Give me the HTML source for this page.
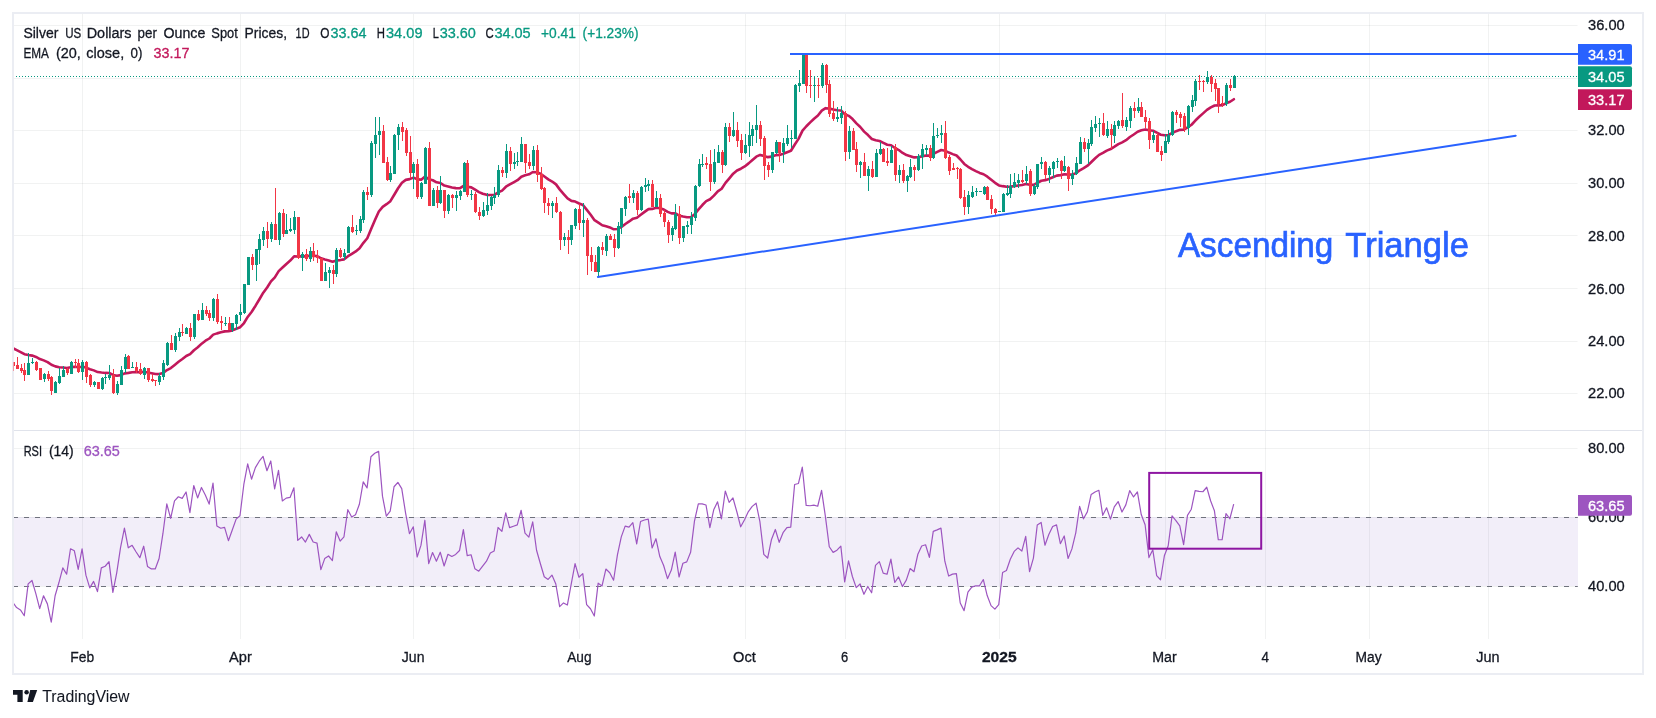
<!DOCTYPE html>
<html><head><meta charset="utf-8"><title>Silver chart</title><style>html,body{margin:0;padding:0;background:#fff;}body{width:1656px;height:718px;overflow:hidden;font-family:"Liberation Sans",sans-serif;}</style></head><body>
<svg width="1656" height="718" viewBox="0 0 1656 718" style="display:block;will-change:transform;opacity:0.999">
<rect x="0" y="0" width="1656" height="718" fill="#ffffff"/>
<g fill="#3c4646" fill-opacity="0.07"><rect x="14" y="25.00" width="1563.5" height="1" /><rect x="14" y="78.00" width="1563.5" height="1" /><rect x="14" y="130.00" width="1563.5" height="1" /><rect x="14" y="183.00" width="1563.5" height="1" /><rect x="14" y="235.00" width="1563.5" height="1" /><rect x="14" y="288.00" width="1563.5" height="1" /><rect x="14" y="341.00" width="1563.5" height="1" /><rect x="14" y="393.00" width="1563.5" height="1" /><rect x="14" y="448.00" width="1563.5" height="1" /><rect x="14" y="517.00" width="1563.5" height="1" /><rect x="14" y="586.00" width="1563.5" height="1" /><rect x="82.00" y="14" width="1" height="625" /><rect x="240.00" y="14" width="1" height="625" /><rect x="413.00" y="14" width="1" height="625" /><rect x="579.00" y="14" width="1" height="625" /><rect x="745.00" y="14" width="1" height="625" /><rect x="845.00" y="14" width="1" height="625" /><rect x="999.00" y="14" width="1" height="625" /><rect x="1165.00" y="14" width="1" height="625" /><rect x="1265.00" y="14" width="1" height="625" /><rect x="1369.00" y="14" width="1" height="625" /><rect x="1488.00" y="14" width="1" height="625" /></g>
<rect x="14" y="517" width="1564" height="69" fill="#7e57c2" fill-opacity="0.1"/>
<line x1="13" y1="517.5" x2="1577.8" y2="517.5" stroke="#6f727d" stroke-width="1" stroke-dasharray="5 6"/>
<line x1="13" y1="586.5" x2="1577.8" y2="586.5" stroke="#6f727d" stroke-width="1" stroke-dasharray="5 6"/>
<rect x="14" y="430" width="1628" height="1" fill="#e0e3eb"/>
<line x1="13" y1="76.5" x2="1578" y2="76.5" stroke="#089981" stroke-width="1" stroke-dasharray="1 2"/>
<defs><clipPath id="cp"><rect x="14" y="14" width="1564" height="416"/></clipPath><clipPath id="cp2"><rect x="14" y="431" width="1564" height="207"/></clipPath></defs>
<polyline clip-path="url(#cp)" points="12.93,348.20 16.78,350.17 20.63,352.09 24.48,354.20 28.34,354.99 32.19,355.60 36.04,356.91 39.89,359.02 43.74,360.38 47.59,362.07 51.45,364.81 55.30,366.36 59.15,367.24 63.00,367.45 66.85,367.95 70.70,367.30 74.56,366.80 78.41,367.23 82.26,366.69 86.11,367.59 89.96,369.20 93.81,370.38 97.67,372.07 101.52,372.56 105.37,372.92 109.22,373.04 113.07,374.92 116.92,375.74 120.77,375.13 124.63,373.37 128.48,372.88 132.33,372.29 136.18,372.10 140.03,372.26 143.88,371.80 147.74,372.49 151.59,373.26 155.44,373.96 159.29,374.12 163.14,373.02 166.99,370.08 170.85,368.09 174.70,364.96 178.55,361.80 182.40,359.00 186.25,355.98 190.10,354.10 193.96,350.22 197.81,347.27 201.66,343.67 205.51,340.74 209.36,338.50 213.21,334.64 217.07,333.37 220.92,332.36 224.77,331.37 228.62,331.21 232.47,330.36 236.32,328.83 240.17,327.21 244.03,323.04 247.88,316.69 251.73,311.74 255.58,305.69 259.43,299.27 263.28,292.71 267.14,287.50 270.99,281.37 274.84,277.35 278.69,271.16 282.54,267.55 286.39,263.93 290.25,260.58 294.10,256.38 297.95,256.46 301.80,256.17 305.65,256.35 309.50,255.79 313.36,255.87 317.21,256.02 321.06,258.33 324.91,259.57 328.76,260.50 332.61,261.68 336.46,260.49 340.32,260.09 344.17,259.37 348.02,256.21 351.87,253.83 355.72,251.46 359.57,248.31 363.43,242.85 367.28,238.26 371.13,229.09 374.98,220.08 378.83,211.53 382.68,206.82 386.54,204.20 390.39,201.17 394.24,194.79 398.09,188.25 401.94,182.81 405.79,179.88 409.65,179.14 413.50,177.62 417.35,179.40 421.20,179.66 425.05,176.59 428.90,179.31 432.76,180.25 436.61,182.33 440.46,183.03 444.31,185.60 448.16,186.42 452.01,187.44 455.86,188.13 459.72,188.30 463.57,185.88 467.42,186.72 471.27,187.36 475.12,189.70 478.97,192.11 482.83,193.79 486.68,194.83 490.53,194.97 494.38,194.91 498.23,192.44 502.08,190.55 505.94,186.72 509.79,184.48 513.64,182.30 517.49,180.18 521.34,176.70 525.19,175.30 529.05,174.36 532.90,171.99 536.75,172.24 540.60,173.77 544.45,176.54 548.30,179.33 552.15,181.52 556.01,184.39 559.86,189.62 563.71,194.09 567.56,198.39 571.41,200.88 575.26,201.58 579.12,203.53 582.97,205.02 586.82,209.83 590.67,214.73 594.52,220.16 598.37,222.64 602.23,225.21 606.08,226.19 609.93,227.43 613.78,229.31 617.63,228.97 621.48,226.95 625.34,224.02 629.19,221.44 633.04,218.67 636.89,217.76 640.74,214.75 644.59,211.86 648.45,209.17 652.30,208.89 656.15,207.81 660.00,208.30 663.85,209.54 667.70,211.91 671.55,213.41 675.41,213.37 679.26,215.64 683.11,216.58 686.96,217.32 690.81,217.22 694.66,214.19 698.52,209.38 702.37,205.02 706.22,201.16 710.07,199.26 713.92,195.63 717.77,191.40 721.63,188.79 725.48,182.84 729.33,178.33 733.18,173.64 737.03,170.44 740.88,168.73 744.74,166.41 748.59,163.39 752.44,160.06 756.29,156.69 760.14,154.91 763.99,155.92 767.85,157.16 771.70,156.64 775.55,155.18 779.40,154.90 783.25,153.73 787.10,152.20 790.95,150.77 794.81,144.46 798.66,138.59 802.51,130.58 806.36,126.24 810.21,122.34 814.06,118.74 817.92,115.56 821.77,110.66 825.62,108.17 829.47,108.62 833.32,109.59 837.17,110.26 841.03,110.48 844.88,114.33 848.73,115.86 852.58,119.07 856.43,123.41 860.28,127.02 864.14,131.59 867.99,135.08 871.84,139.01 875.69,140.26 879.54,141.03 883.39,142.93 887.24,144.76 891.10,145.19 894.95,147.96 898.80,150.03 902.65,152.93 906.50,155.08 910.35,156.15 914.21,157.40 918.06,157.21 921.91,156.37 925.76,155.52 929.61,155.67 933.46,153.73 937.32,151.85 941.17,150.01 945.02,150.68 948.87,152.56 952.72,154.13 956.57,155.52 960.43,159.49 964.28,163.92 968.13,166.82 971.98,169.12 975.83,171.12 979.68,172.93 983.54,174.24 987.39,176.66 991.24,179.73 995.09,182.82 998.94,185.41 1002.79,186.16 1006.64,186.73 1010.50,186.64 1014.35,186.13 1018.20,185.48 1022.05,185.05 1025.90,183.90 1029.75,184.76 1033.61,184.83 1037.46,182.78 1041.31,180.73 1045.16,180.15 1049.01,178.91 1052.86,177.23 1056.72,175.60 1060.57,175.11 1064.42,174.20 1068.27,174.64 1072.12,174.48 1075.97,173.33 1079.83,170.28 1083.68,168.18 1087.53,165.72 1091.38,161.96 1095.23,158.31 1099.08,154.85 1102.93,152.92 1106.79,150.58 1110.64,149.02 1114.49,146.69 1118.34,144.15 1122.19,142.32 1126.04,140.15 1129.90,137.04 1133.75,134.49 1137.60,131.79 1141.45,130.30 1145.30,129.41 1149.15,130.33 1153.01,130.73 1156.86,132.69 1160.71,134.76 1164.56,135.31 1168.41,135.20 1172.26,132.95 1176.12,131.16 1179.97,129.85 1183.82,129.70 1187.67,127.38 1191.52,124.75 1195.37,120.54 1199.23,116.77 1203.08,113.38 1206.93,109.89 1210.78,107.34 1214.63,105.50 1218.48,105.34 1222.33,105.20 1226.19,103.25 1230.04,101.74 1233.89,99.24" fill="none" stroke="#c2185b" stroke-width="2.6" stroke-linejoin="round" stroke-linecap="round"/>
<g clip-path="url(#cp)"><rect x="13" y="362" width="1" height="9" fill="#f23645"/><rect x="17" y="357" width="1" height="12" fill="#f23645"/><rect x="21" y="364" width="1" height="9" fill="#f23645"/><rect x="24" y="363" width="1" height="18" fill="#f23645"/><rect x="28" y="353" width="1" height="22" fill="#089981"/><rect x="32" y="358" width="1" height="6" fill="#089981"/><rect x="36" y="361" width="1" height="10" fill="#f23645"/><rect x="40" y="368" width="1" height="12" fill="#f23645"/><rect x="44" y="373" width="1" height="9" fill="#089981"/><rect x="48" y="371" width="1" height="10" fill="#f23645"/><rect x="51" y="376" width="1" height="19" fill="#f23645"/><rect x="55" y="381" width="1" height="12" fill="#089981"/><rect x="59" y="368" width="1" height="16" fill="#089981"/><rect x="63" y="366" width="1" height="11" fill="#089981"/><rect x="67" y="368" width="1" height="7" fill="#f23645"/><rect x="71" y="361" width="1" height="13" fill="#089981"/><rect x="75" y="359" width="1" height="9" fill="#f23645"/><rect x="78" y="359" width="1" height="14" fill="#f23645"/><rect x="82" y="360" width="1" height="20" fill="#089981"/><rect x="86" y="361" width="1" height="22" fill="#f23645"/><rect x="90" y="374" width="1" height="13" fill="#f23645"/><rect x="94" y="381" width="1" height="6" fill="#089981"/><rect x="98" y="382" width="1" height="7" fill="#f23645"/><rect x="102" y="377" width="1" height="13" fill="#089981"/><rect x="105" y="374" width="1" height="10" fill="#089981"/><rect x="109" y="365" width="1" height="15" fill="#089981"/><rect x="113" y="369" width="1" height="25" fill="#f23645"/><rect x="117" y="381" width="1" height="14" fill="#089981"/><rect x="121" y="366" width="1" height="19" fill="#089981"/><rect x="125" y="354" width="1" height="19" fill="#089981"/><rect x="128" y="355" width="1" height="14" fill="#f23645"/><rect x="132" y="362" width="1" height="6" fill="#089981"/><rect x="136" y="362" width="1" height="11" fill="#f23645"/><rect x="140" y="363" width="1" height="12" fill="#f23645"/><rect x="144" y="367" width="1" height="12" fill="#089981"/><rect x="148" y="368" width="1" height="14" fill="#f23645"/><rect x="152" y="374" width="1" height="8" fill="#f23645"/><rect x="155" y="380" width="1" height="6" fill="#f23645"/><rect x="159" y="373" width="1" height="12" fill="#089981"/><rect x="163" y="360" width="1" height="20" fill="#089981"/><rect x="167" y="342" width="1" height="24" fill="#089981"/><rect x="171" y="335" width="1" height="15" fill="#f23645"/><rect x="175" y="333" width="1" height="19" fill="#089981"/><rect x="179" y="328" width="1" height="13" fill="#089981"/><rect x="182" y="324" width="1" height="12" fill="#f23645"/><rect x="186" y="327" width="1" height="7" fill="#089981"/><rect x="190" y="323" width="1" height="18" fill="#f23645"/><rect x="194" y="314" width="1" height="25" fill="#089981"/><rect x="198" y="310" width="1" height="11" fill="#f23645"/><rect x="202" y="303" width="1" height="17" fill="#089981"/><rect x="206" y="306" width="1" height="10" fill="#f23645"/><rect x="209" y="310" width="1" height="11" fill="#f23645"/><rect x="213" y="298" width="1" height="23" fill="#089981"/><rect x="217" y="294" width="1" height="30" fill="#f23645"/><rect x="221" y="316" width="1" height="14" fill="#f23645"/><rect x="225" y="317" width="1" height="9" fill="#089981"/><rect x="229" y="317" width="1" height="13" fill="#f23645"/><rect x="232" y="323" width="1" height="9" fill="#089981"/><rect x="236" y="314" width="1" height="16" fill="#089981"/><rect x="240" y="304" width="1" height="17" fill="#089981"/><rect x="244" y="284" width="1" height="30" fill="#089981"/><rect x="248" y="257" width="1" height="28" fill="#089981"/><rect x="252" y="254" width="1" height="16" fill="#f23645"/><rect x="256" y="249" width="1" height="32" fill="#089981"/><rect x="259" y="234" width="1" height="30" fill="#089981"/><rect x="263" y="227" width="1" height="19" fill="#089981"/><rect x="267" y="222" width="1" height="26" fill="#f23645"/><rect x="271" y="222" width="1" height="20" fill="#089981"/><rect x="275" y="188" width="1" height="52" fill="#f23645"/><rect x="279" y="212" width="1" height="33" fill="#089981"/><rect x="283" y="209" width="1" height="28" fill="#f23645"/><rect x="286" y="214" width="1" height="20" fill="#089981"/><rect x="290" y="218" width="1" height="14" fill="#089981"/><rect x="294" y="211" width="1" height="23" fill="#089981"/><rect x="298" y="217" width="1" height="42" fill="#f23645"/><rect x="302" y="252" width="1" height="19" fill="#089981"/><rect x="306" y="249" width="1" height="12" fill="#f23645"/><rect x="310" y="247" width="1" height="15" fill="#089981"/><rect x="313" y="243" width="1" height="18" fill="#f23645"/><rect x="317" y="250" width="1" height="13" fill="#f23645"/><rect x="321" y="258" width="1" height="23" fill="#f23645"/><rect x="325" y="263" width="1" height="18" fill="#089981"/><rect x="329" y="267" width="1" height="21" fill="#089981"/><rect x="333" y="265" width="1" height="19" fill="#f23645"/><rect x="336" y="248" width="1" height="29" fill="#089981"/><rect x="340" y="248" width="1" height="10" fill="#f23645"/><rect x="344" y="249" width="1" height="11" fill="#089981"/><rect x="348" y="226" width="1" height="27" fill="#089981"/><rect x="352" y="215" width="1" height="18" fill="#f23645"/><rect x="356" y="225" width="1" height="10" fill="#089981"/><rect x="360" y="216" width="1" height="17" fill="#089981"/><rect x="363" y="190" width="1" height="33" fill="#089981"/><rect x="367" y="187" width="1" height="13" fill="#f23645"/><rect x="371" y="141" width="1" height="56" fill="#089981"/><rect x="375" y="117" width="1" height="41" fill="#089981"/><rect x="379" y="117" width="1" height="38" fill="#089981"/><rect x="383" y="125" width="1" height="38" fill="#f23645"/><rect x="387" y="157" width="1" height="24" fill="#f23645"/><rect x="390" y="166" width="1" height="16" fill="#089981"/><rect x="394" y="134" width="1" height="40" fill="#089981"/><rect x="398" y="124" width="1" height="26" fill="#089981"/><rect x="402" y="122" width="1" height="19" fill="#f23645"/><rect x="406" y="128" width="1" height="28" fill="#f23645"/><rect x="410" y="136" width="1" height="42" fill="#f23645"/><rect x="413" y="162" width="1" height="27" fill="#089981"/><rect x="417" y="159" width="1" height="40" fill="#f23645"/><rect x="421" y="182" width="1" height="17" fill="#089981"/><rect x="425" y="147" width="1" height="37" fill="#089981"/><rect x="429" y="142" width="1" height="64" fill="#f23645"/><rect x="433" y="188" width="1" height="18" fill="#089981"/><rect x="437" y="186" width="1" height="22" fill="#f23645"/><rect x="440" y="176" width="1" height="28" fill="#089981"/><rect x="444" y="190" width="1" height="28" fill="#f23645"/><rect x="448" y="194" width="1" height="20" fill="#089981"/><rect x="452" y="194" width="1" height="14" fill="#f23645"/><rect x="456" y="191" width="1" height="20" fill="#089981"/><rect x="460" y="190" width="1" height="10" fill="#089981"/><rect x="464" y="162" width="1" height="30" fill="#089981"/><rect x="467" y="160" width="1" height="37" fill="#f23645"/><rect x="471" y="190" width="1" height="10" fill="#089981"/><rect x="475" y="192" width="1" height="21" fill="#f23645"/><rect x="479" y="207" width="1" height="13" fill="#f23645"/><rect x="483" y="202" width="1" height="15" fill="#089981"/><rect x="487" y="193" width="1" height="22" fill="#089981"/><rect x="491" y="196" width="1" height="14" fill="#089981"/><rect x="494" y="187" width="1" height="17" fill="#089981"/><rect x="498" y="165" width="1" height="32" fill="#089981"/><rect x="502" y="167" width="1" height="10" fill="#f23645"/><rect x="506" y="144" width="1" height="34" fill="#089981"/><rect x="510" y="147" width="1" height="24" fill="#f23645"/><rect x="514" y="153" width="1" height="16" fill="#089981"/><rect x="517" y="152" width="1" height="14" fill="#089981"/><rect x="521" y="137" width="1" height="25" fill="#089981"/><rect x="525" y="144" width="1" height="29" fill="#f23645"/><rect x="529" y="154" width="1" height="15" fill="#f23645"/><rect x="533" y="146" width="1" height="24" fill="#089981"/><rect x="537" y="145" width="1" height="37" fill="#f23645"/><rect x="541" y="167" width="1" height="23" fill="#f23645"/><rect x="544" y="187" width="1" height="26" fill="#f23645"/><rect x="548" y="198" width="1" height="17" fill="#f23645"/><rect x="552" y="201" width="1" height="17" fill="#089981"/><rect x="556" y="197" width="1" height="16" fill="#f23645"/><rect x="560" y="211" width="1" height="39" fill="#f23645"/><rect x="564" y="233" width="1" height="13" fill="#089981"/><rect x="568" y="230" width="1" height="24" fill="#f23645"/><rect x="571" y="225" width="1" height="20" fill="#089981"/><rect x="575" y="208" width="1" height="21" fill="#089981"/><rect x="579" y="204" width="1" height="26" fill="#f23645"/><rect x="583" y="203" width="1" height="34" fill="#089981"/><rect x="587" y="218" width="1" height="57" fill="#f23645"/><rect x="591" y="247" width="1" height="24" fill="#f23645"/><rect x="595" y="255" width="1" height="17" fill="#f23645"/><rect x="598" y="246" width="1" height="31" fill="#089981"/><rect x="602" y="242" width="1" height="13" fill="#f23645"/><rect x="606" y="234" width="1" height="22" fill="#089981"/><rect x="610" y="234" width="1" height="6" fill="#f23645"/><rect x="614" y="234" width="1" height="23" fill="#f23645"/><rect x="618" y="222" width="1" height="27" fill="#089981"/><rect x="621" y="208" width="1" height="26" fill="#089981"/><rect x="625" y="196" width="1" height="20" fill="#089981"/><rect x="629" y="184" width="1" height="19" fill="#f23645"/><rect x="633" y="190" width="1" height="13" fill="#089981"/><rect x="637" y="191" width="1" height="24" fill="#f23645"/><rect x="641" y="186" width="1" height="25" fill="#089981"/><rect x="645" y="178" width="1" height="14" fill="#089981"/><rect x="648" y="180" width="1" height="11" fill="#089981"/><rect x="652" y="180" width="1" height="27" fill="#f23645"/><rect x="656" y="191" width="1" height="16" fill="#089981"/><rect x="660" y="194" width="1" height="23" fill="#f23645"/><rect x="664" y="210" width="1" height="17" fill="#f23645"/><rect x="668" y="220" width="1" height="23" fill="#f23645"/><rect x="672" y="226" width="1" height="15" fill="#089981"/><rect x="675" y="204" width="1" height="26" fill="#089981"/><rect x="679" y="206" width="1" height="38" fill="#f23645"/><rect x="683" y="226" width="1" height="16" fill="#089981"/><rect x="687" y="221" width="1" height="13" fill="#089981"/><rect x="691" y="212" width="1" height="22" fill="#089981"/><rect x="695" y="185" width="1" height="36" fill="#089981"/><rect x="699" y="159" width="1" height="28" fill="#089981"/><rect x="702" y="154" width="1" height="13" fill="#089981"/><rect x="706" y="157" width="1" height="12" fill="#f23645"/><rect x="710" y="150" width="1" height="41" fill="#f23645"/><rect x="714" y="149" width="1" height="35" fill="#089981"/><rect x="718" y="145" width="1" height="18" fill="#089981"/><rect x="722" y="150" width="1" height="23" fill="#f23645"/><rect x="725" y="123" width="1" height="43" fill="#089981"/><rect x="729" y="123" width="1" height="19" fill="#f23645"/><rect x="733" y="112" width="1" height="25" fill="#089981"/><rect x="737" y="122" width="1" height="25" fill="#f23645"/><rect x="741" y="134" width="1" height="26" fill="#f23645"/><rect x="745" y="134" width="1" height="20" fill="#089981"/><rect x="749" y="122" width="1" height="35" fill="#089981"/><rect x="752" y="125" width="1" height="21" fill="#089981"/><rect x="756" y="105" width="1" height="38" fill="#089981"/><rect x="760" y="121" width="1" height="25" fill="#f23645"/><rect x="764" y="136" width="1" height="44" fill="#f23645"/><rect x="768" y="162" width="1" height="15" fill="#f23645"/><rect x="772" y="152" width="1" height="21" fill="#089981"/><rect x="776" y="140" width="1" height="14" fill="#089981"/><rect x="779" y="142" width="1" height="20" fill="#f23645"/><rect x="783" y="138" width="1" height="25" fill="#089981"/><rect x="787" y="125" width="1" height="21" fill="#089981"/><rect x="791" y="130" width="1" height="18" fill="#089981"/><rect x="795" y="84" width="1" height="55" fill="#089981"/><rect x="799" y="70" width="1" height="22" fill="#089981"/><rect x="803" y="55" width="1" height="29" fill="#089981"/><rect x="806" y="55" width="1" height="38" fill="#f23645"/><rect x="810" y="70" width="1" height="28" fill="#f23645"/><rect x="814" y="76" width="1" height="26" fill="#089981"/><rect x="818" y="78" width="1" height="20" fill="#f23645"/><rect x="822" y="63" width="1" height="25" fill="#089981"/><rect x="826" y="64" width="1" height="29" fill="#f23645"/><rect x="829" y="80" width="1" height="37" fill="#f23645"/><rect x="833" y="101" width="1" height="20" fill="#f23645"/><rect x="837" y="107" width="1" height="15" fill="#089981"/><rect x="841" y="106" width="1" height="18" fill="#089981"/><rect x="845" y="111" width="1" height="50" fill="#f23645"/><rect x="849" y="126" width="1" height="33" fill="#089981"/><rect x="853" y="128" width="1" height="22" fill="#f23645"/><rect x="856" y="142" width="1" height="30" fill="#f23645"/><rect x="860" y="161" width="1" height="17" fill="#089981"/><rect x="864" y="153" width="1" height="23" fill="#f23645"/><rect x="868" y="166" width="1" height="25" fill="#089981"/><rect x="872" y="161" width="1" height="17" fill="#f23645"/><rect x="876" y="149" width="1" height="28" fill="#089981"/><rect x="880" y="142" width="1" height="13" fill="#089981"/><rect x="883" y="148" width="1" height="14" fill="#f23645"/><rect x="887" y="148" width="1" height="18" fill="#f23645"/><rect x="891" y="146" width="1" height="17" fill="#089981"/><rect x="895" y="144" width="1" height="37" fill="#f23645"/><rect x="899" y="165" width="1" height="18" fill="#089981"/><rect x="903" y="164" width="1" height="19" fill="#f23645"/><rect x="907" y="175" width="1" height="17" fill="#089981"/><rect x="910" y="159" width="1" height="19" fill="#089981"/><rect x="914" y="165" width="1" height="16" fill="#f23645"/><rect x="918" y="154" width="1" height="17" fill="#089981"/><rect x="922" y="144" width="1" height="25" fill="#089981"/><rect x="926" y="145" width="1" height="10" fill="#089981"/><rect x="930" y="145" width="1" height="16" fill="#f23645"/><rect x="933" y="123" width="1" height="36" fill="#089981"/><rect x="937" y="128" width="1" height="10" fill="#089981"/><rect x="941" y="125" width="1" height="18" fill="#089981"/><rect x="945" y="121" width="1" height="38" fill="#f23645"/><rect x="949" y="155" width="1" height="20" fill="#f23645"/><rect x="953" y="163" width="1" height="7" fill="#f23645"/><rect x="957" y="167" width="1" height="12" fill="#f23645"/><rect x="960" y="168" width="1" height="31" fill="#f23645"/><rect x="964" y="190" width="1" height="25" fill="#f23645"/><rect x="968" y="191" width="1" height="23" fill="#089981"/><rect x="972" y="186" width="1" height="12" fill="#089981"/><rect x="976" y="188" width="1" height="8" fill="#089981"/><rect x="980" y="191" width="1" height="1" fill="#089981"/><rect x="984" y="186" width="1" height="9" fill="#089981"/><rect x="987" y="186" width="1" height="14" fill="#f23645"/><rect x="991" y="195" width="1" height="19" fill="#f23645"/><rect x="995" y="208" width="1" height="7" fill="#f23645"/><rect x="999" y="211" width="1" height="1" fill="#089981"/><rect x="1003" y="193" width="1" height="19" fill="#089981"/><rect x="1007" y="185" width="1" height="11" fill="#089981"/><rect x="1010" y="174" width="1" height="24" fill="#089981"/><rect x="1014" y="173" width="1" height="15" fill="#089981"/><rect x="1018" y="174" width="1" height="14" fill="#089981"/><rect x="1022" y="170" width="1" height="13" fill="#f23645"/><rect x="1026" y="166" width="1" height="18" fill="#089981"/><rect x="1030" y="169" width="1" height="27" fill="#f23645"/><rect x="1034" y="184" width="1" height="11" fill="#089981"/><rect x="1037" y="164" width="1" height="25" fill="#089981"/><rect x="1041" y="157" width="1" height="12" fill="#089981"/><rect x="1045" y="161" width="1" height="18" fill="#f23645"/><rect x="1049" y="166" width="1" height="17" fill="#089981"/><rect x="1053" y="161" width="1" height="17" fill="#089981"/><rect x="1057" y="158" width="1" height="10" fill="#089981"/><rect x="1061" y="160" width="1" height="19" fill="#f23645"/><rect x="1064" y="156" width="1" height="16" fill="#089981"/><rect x="1068" y="166" width="1" height="25" fill="#f23645"/><rect x="1072" y="170" width="1" height="15" fill="#089981"/><rect x="1076" y="157" width="1" height="18" fill="#089981"/><rect x="1080" y="137" width="1" height="27" fill="#089981"/><rect x="1084" y="138" width="1" height="14" fill="#f23645"/><rect x="1088" y="139" width="1" height="25" fill="#089981"/><rect x="1091" y="120" width="1" height="26" fill="#089981"/><rect x="1095" y="116" width="1" height="16" fill="#089981"/><rect x="1099" y="118" width="1" height="19" fill="#089981"/><rect x="1103" y="113" width="1" height="23" fill="#f23645"/><rect x="1107" y="121" width="1" height="17" fill="#089981"/><rect x="1111" y="124" width="1" height="25" fill="#f23645"/><rect x="1114" y="121" width="1" height="22" fill="#089981"/><rect x="1118" y="120" width="1" height="9" fill="#089981"/><rect x="1122" y="93" width="1" height="35" fill="#f23645"/><rect x="1126" y="117" width="1" height="14" fill="#089981"/><rect x="1130" y="106" width="1" height="22" fill="#089981"/><rect x="1134" y="102" width="1" height="16" fill="#f23645"/><rect x="1138" y="98" width="1" height="15" fill="#089981"/><rect x="1141" y="102" width="1" height="15" fill="#f23645"/><rect x="1145" y="110" width="1" height="18" fill="#f23645"/><rect x="1149" y="118" width="1" height="31" fill="#f23645"/><rect x="1153" y="131" width="1" height="12" fill="#089981"/><rect x="1157" y="133" width="1" height="19" fill="#f23645"/><rect x="1161" y="146" width="1" height="15" fill="#f23645"/><rect x="1165" y="134" width="1" height="19" fill="#089981"/><rect x="1168" y="130" width="1" height="14" fill="#089981"/><rect x="1172" y="111" width="1" height="25" fill="#089981"/><rect x="1176" y="110" width="1" height="13" fill="#f23645"/><rect x="1180" y="112" width="1" height="15" fill="#f23645"/><rect x="1184" y="113" width="1" height="19" fill="#f23645"/><rect x="1188" y="105" width="1" height="30" fill="#089981"/><rect x="1192" y="95" width="1" height="17" fill="#089981"/><rect x="1195" y="79" width="1" height="27" fill="#089981"/><rect x="1199" y="75" width="1" height="15" fill="#f23645"/><rect x="1203" y="80" width="1" height="12" fill="#f23645"/><rect x="1207" y="71" width="1" height="13" fill="#089981"/><rect x="1211" y="75" width="1" height="17" fill="#f23645"/><rect x="1215" y="79" width="1" height="22" fill="#f23645"/><rect x="1218" y="88" width="1" height="25" fill="#f23645"/><rect x="1222" y="96" width="1" height="11" fill="#f23645"/><rect x="1226" y="83" width="1" height="23" fill="#089981"/><rect x="1230" y="79" width="1" height="12" fill="#f23645"/><rect x="1234" y="75" width="1" height="13" fill="#089981"/><rect x="12" y="362" width="3" height="4" fill="#f23645"/><rect x="16" y="365" width="3" height="4" fill="#f23645"/><rect x="20" y="368" width="3" height="3" fill="#f23645"/><rect x="23" y="370" width="3" height="5" fill="#f23645"/><rect x="27" y="363" width="3" height="12" fill="#089981"/><rect x="31" y="362" width="3" height="1" fill="#089981"/><rect x="35" y="362" width="3" height="8" fill="#f23645"/><rect x="39" y="368" width="3" height="12" fill="#f23645"/><rect x="43" y="374" width="3" height="5" fill="#089981"/><rect x="47" y="374" width="3" height="5" fill="#f23645"/><rect x="50" y="377" width="3" height="14" fill="#f23645"/><rect x="54" y="382" width="3" height="11" fill="#089981"/><rect x="58" y="376" width="3" height="7" fill="#089981"/><rect x="62" y="370" width="3" height="7" fill="#089981"/><rect x="66" y="369" width="3" height="4" fill="#f23645"/><rect x="70" y="362" width="3" height="12" fill="#089981"/><rect x="74" y="362" width="3" height="1" fill="#f23645"/><rect x="77" y="363" width="3" height="9" fill="#f23645"/><rect x="81" y="362" width="3" height="10" fill="#089981"/><rect x="85" y="362" width="3" height="15" fill="#f23645"/><rect x="89" y="375" width="3" height="10" fill="#f23645"/><rect x="93" y="382" width="3" height="3" fill="#089981"/><rect x="97" y="382" width="3" height="7" fill="#f23645"/><rect x="101" y="378" width="3" height="11" fill="#089981"/><rect x="104" y="377" width="3" height="1" fill="#089981"/><rect x="108" y="375" width="3" height="3" fill="#089981"/><rect x="112" y="375" width="3" height="18" fill="#f23645"/><rect x="116" y="384" width="3" height="9" fill="#089981"/><rect x="120" y="370" width="3" height="15" fill="#089981"/><rect x="124" y="357" width="3" height="12" fill="#089981"/><rect x="127" y="356" width="3" height="13" fill="#f23645"/><rect x="131" y="367" width="3" height="1" fill="#089981"/><rect x="135" y="367" width="3" height="4" fill="#f23645"/><rect x="139" y="369" width="3" height="5" fill="#f23645"/><rect x="143" y="368" width="3" height="7" fill="#089981"/><rect x="147" y="368" width="3" height="12" fill="#f23645"/><rect x="151" y="379" width="3" height="2" fill="#f23645"/><rect x="154" y="380" width="3" height="1" fill="#f23645"/><rect x="158" y="376" width="3" height="6" fill="#089981"/><rect x="162" y="363" width="3" height="14" fill="#089981"/><rect x="166" y="343" width="3" height="22" fill="#089981"/><rect x="170" y="343" width="3" height="7" fill="#f23645"/><rect x="174" y="336" width="3" height="14" fill="#089981"/><rect x="178" y="332" width="3" height="5" fill="#089981"/><rect x="181" y="332" width="3" height="1" fill="#f23645"/><rect x="185" y="328" width="3" height="6" fill="#089981"/><rect x="189" y="328" width="3" height="9" fill="#f23645"/><rect x="193" y="314" width="3" height="23" fill="#089981"/><rect x="197" y="314" width="3" height="6" fill="#f23645"/><rect x="201" y="310" width="3" height="10" fill="#089981"/><rect x="205" y="310" width="3" height="4" fill="#f23645"/><rect x="208" y="313" width="3" height="5" fill="#f23645"/><rect x="212" y="299" width="3" height="19" fill="#089981"/><rect x="216" y="299" width="3" height="23" fill="#f23645"/><rect x="220" y="321" width="3" height="2" fill="#f23645"/><rect x="224" y="323" width="3" height="1" fill="#089981"/><rect x="228" y="323" width="3" height="7" fill="#f23645"/><rect x="231" y="323" width="3" height="7" fill="#089981"/><rect x="235" y="315" width="3" height="9" fill="#089981"/><rect x="239" y="312" width="3" height="3" fill="#089981"/><rect x="243" y="284" width="3" height="29" fill="#089981"/><rect x="247" y="257" width="3" height="28" fill="#089981"/><rect x="251" y="257" width="3" height="8" fill="#f23645"/><rect x="255" y="249" width="3" height="16" fill="#089981"/><rect x="258" y="239" width="3" height="11" fill="#089981"/><rect x="262" y="231" width="3" height="9" fill="#089981"/><rect x="266" y="231" width="3" height="8" fill="#f23645"/><rect x="270" y="224" width="3" height="15" fill="#089981"/><rect x="274" y="224" width="3" height="16" fill="#f23645"/><rect x="278" y="213" width="3" height="27" fill="#089981"/><rect x="282" y="213" width="3" height="21" fill="#f23645"/><rect x="285" y="230" width="3" height="4" fill="#089981"/><rect x="289" y="229" width="3" height="2" fill="#089981"/><rect x="293" y="217" width="3" height="13" fill="#089981"/><rect x="297" y="217" width="3" height="41" fill="#f23645"/><rect x="301" y="254" width="3" height="4" fill="#089981"/><rect x="305" y="254" width="3" height="5" fill="#f23645"/><rect x="309" y="251" width="3" height="8" fill="#089981"/><rect x="312" y="251" width="3" height="6" fill="#f23645"/><rect x="316" y="256" width="3" height="2" fill="#f23645"/><rect x="320" y="258" width="3" height="23" fill="#f23645"/><rect x="324" y="272" width="3" height="9" fill="#089981"/><rect x="328" y="270" width="3" height="3" fill="#089981"/><rect x="332" y="270" width="3" height="4" fill="#f23645"/><rect x="335" y="250" width="3" height="24" fill="#089981"/><rect x="339" y="250" width="3" height="7" fill="#f23645"/><rect x="343" y="253" width="3" height="4" fill="#089981"/><rect x="347" y="227" width="3" height="26" fill="#089981"/><rect x="351" y="227" width="3" height="5" fill="#f23645"/><rect x="355" y="230" width="3" height="1" fill="#089981"/><rect x="359" y="219" width="3" height="12" fill="#089981"/><rect x="362" y="192" width="3" height="28" fill="#089981"/><rect x="366" y="192" width="3" height="3" fill="#f23645"/><rect x="370" y="143" width="3" height="52" fill="#089981"/><rect x="374" y="135" width="3" height="9" fill="#089981"/><rect x="378" y="131" width="3" height="4" fill="#089981"/><rect x="382" y="131" width="3" height="32" fill="#f23645"/><rect x="386" y="162" width="3" height="18" fill="#f23645"/><rect x="389" y="173" width="3" height="7" fill="#089981"/><rect x="393" y="135" width="3" height="39" fill="#089981"/><rect x="397" y="127" width="3" height="8" fill="#089981"/><rect x="401" y="127" width="3" height="5" fill="#f23645"/><rect x="405" y="130" width="3" height="23" fill="#f23645"/><rect x="409" y="152" width="3" height="21" fill="#f23645"/><rect x="412" y="164" width="3" height="9" fill="#089981"/><rect x="416" y="164" width="3" height="33" fill="#f23645"/><rect x="420" y="183" width="3" height="14" fill="#089981"/><rect x="424" y="148" width="3" height="36" fill="#089981"/><rect x="428" y="148" width="3" height="58" fill="#f23645"/><rect x="432" y="190" width="3" height="16" fill="#089981"/><rect x="436" y="190" width="3" height="13" fill="#f23645"/><rect x="439" y="190" width="3" height="13" fill="#089981"/><rect x="443" y="190" width="3" height="21" fill="#f23645"/><rect x="447" y="195" width="3" height="16" fill="#089981"/><rect x="451" y="195" width="3" height="3" fill="#f23645"/><rect x="455" y="195" width="3" height="3" fill="#089981"/><rect x="459" y="191" width="3" height="5" fill="#089981"/><rect x="463" y="163" width="3" height="29" fill="#089981"/><rect x="466" y="163" width="3" height="32" fill="#f23645"/><rect x="470" y="194" width="3" height="1" fill="#089981"/><rect x="474" y="194" width="3" height="18" fill="#f23645"/><rect x="478" y="212" width="3" height="4" fill="#f23645"/><rect x="482" y="210" width="3" height="6" fill="#089981"/><rect x="486" y="205" width="3" height="6" fill="#089981"/><rect x="490" y="197" width="3" height="9" fill="#089981"/><rect x="493" y="195" width="3" height="3" fill="#089981"/><rect x="497" y="170" width="3" height="25" fill="#089981"/><rect x="501" y="170" width="3" height="3" fill="#f23645"/><rect x="505" y="151" width="3" height="22" fill="#089981"/><rect x="509" y="151" width="3" height="13" fill="#f23645"/><rect x="513" y="162" width="3" height="2" fill="#089981"/><rect x="516" y="161" width="3" height="1" fill="#089981"/><rect x="520" y="144" width="3" height="18" fill="#089981"/><rect x="524" y="144" width="3" height="19" fill="#f23645"/><rect x="528" y="162" width="3" height="4" fill="#f23645"/><rect x="532" y="150" width="3" height="16" fill="#089981"/><rect x="536" y="150" width="3" height="25" fill="#f23645"/><rect x="540" y="174" width="3" height="15" fill="#f23645"/><rect x="543" y="188" width="3" height="15" fill="#f23645"/><rect x="547" y="203" width="3" height="3" fill="#f23645"/><rect x="551" y="203" width="3" height="3" fill="#089981"/><rect x="555" y="203" width="3" height="9" fill="#f23645"/><rect x="559" y="212" width="3" height="28" fill="#f23645"/><rect x="563" y="237" width="3" height="3" fill="#089981"/><rect x="567" y="237" width="3" height="3" fill="#f23645"/><rect x="570" y="225" width="3" height="15" fill="#089981"/><rect x="574" y="209" width="3" height="17" fill="#089981"/><rect x="578" y="209" width="3" height="14" fill="#f23645"/><rect x="582" y="220" width="3" height="3" fill="#089981"/><rect x="586" y="220" width="3" height="36" fill="#f23645"/><rect x="590" y="255" width="3" height="7" fill="#f23645"/><rect x="594" y="262" width="3" height="10" fill="#f23645"/><rect x="597" y="247" width="3" height="25" fill="#089981"/><rect x="601" y="247" width="3" height="3" fill="#f23645"/><rect x="605" y="236" width="3" height="15" fill="#089981"/><rect x="609" y="236" width="3" height="4" fill="#f23645"/><rect x="613" y="239" width="3" height="9" fill="#f23645"/><rect x="617" y="226" width="3" height="22" fill="#089981"/><rect x="620" y="208" width="3" height="19" fill="#089981"/><rect x="624" y="197" width="3" height="12" fill="#089981"/><rect x="628" y="196" width="3" height="2" fill="#f23645"/><rect x="632" y="193" width="3" height="5" fill="#089981"/><rect x="636" y="193" width="3" height="17" fill="#f23645"/><rect x="640" y="187" width="3" height="23" fill="#089981"/><rect x="644" y="185" width="3" height="2" fill="#089981"/><rect x="647" y="184" width="3" height="2" fill="#089981"/><rect x="651" y="184" width="3" height="23" fill="#f23645"/><rect x="655" y="198" width="3" height="9" fill="#089981"/><rect x="659" y="198" width="3" height="16" fill="#f23645"/><rect x="663" y="213" width="3" height="9" fill="#f23645"/><rect x="667" y="222" width="3" height="13" fill="#f23645"/><rect x="671" y="228" width="3" height="7" fill="#089981"/><rect x="674" y="214" width="3" height="15" fill="#089981"/><rect x="678" y="214" width="3" height="24" fill="#f23645"/><rect x="682" y="226" width="3" height="12" fill="#089981"/><rect x="686" y="225" width="3" height="2" fill="#089981"/><rect x="690" y="217" width="3" height="8" fill="#089981"/><rect x="694" y="186" width="3" height="32" fill="#089981"/><rect x="698" y="164" width="3" height="22" fill="#089981"/><rect x="701" y="164" width="3" height="1" fill="#089981"/><rect x="705" y="163" width="3" height="2" fill="#f23645"/><rect x="709" y="164" width="3" height="18" fill="#f23645"/><rect x="713" y="162" width="3" height="20" fill="#089981"/><rect x="717" y="152" width="3" height="11" fill="#089981"/><rect x="721" y="152" width="3" height="13" fill="#f23645"/><rect x="724" y="127" width="3" height="38" fill="#089981"/><rect x="728" y="127" width="3" height="9" fill="#f23645"/><rect x="732" y="130" width="3" height="6" fill="#089981"/><rect x="736" y="130" width="3" height="11" fill="#f23645"/><rect x="740" y="140" width="3" height="13" fill="#f23645"/><rect x="744" y="145" width="3" height="8" fill="#089981"/><rect x="748" y="135" width="3" height="11" fill="#089981"/><rect x="751" y="129" width="3" height="7" fill="#089981"/><rect x="755" y="125" width="3" height="5" fill="#089981"/><rect x="759" y="125" width="3" height="14" fill="#f23645"/><rect x="763" y="138" width="3" height="28" fill="#f23645"/><rect x="767" y="165" width="3" height="5" fill="#f23645"/><rect x="771" y="152" width="3" height="18" fill="#089981"/><rect x="775" y="142" width="3" height="11" fill="#089981"/><rect x="778" y="142" width="3" height="11" fill="#f23645"/><rect x="782" y="143" width="3" height="9" fill="#089981"/><rect x="786" y="138" width="3" height="6" fill="#089981"/><rect x="790" y="138" width="3" height="1" fill="#089981"/><rect x="794" y="85" width="3" height="54" fill="#089981"/><rect x="798" y="83" width="3" height="3" fill="#089981"/><rect x="802" y="55" width="3" height="29" fill="#089981"/><rect x="805" y="55" width="3" height="31" fill="#f23645"/><rect x="809" y="85" width="3" height="1" fill="#f23645"/><rect x="813" y="85" width="3" height="1" fill="#089981"/><rect x="817" y="85" width="3" height="1" fill="#f23645"/><rect x="821" y="65" width="3" height="21" fill="#089981"/><rect x="825" y="65" width="3" height="20" fill="#f23645"/><rect x="828" y="84" width="3" height="30" fill="#f23645"/><rect x="832" y="113" width="3" height="6" fill="#f23645"/><rect x="836" y="117" width="3" height="2" fill="#089981"/><rect x="840" y="113" width="3" height="5" fill="#089981"/><rect x="844" y="113" width="3" height="39" fill="#f23645"/><rect x="848" y="131" width="3" height="21" fill="#089981"/><rect x="852" y="131" width="3" height="19" fill="#f23645"/><rect x="855" y="149" width="3" height="16" fill="#f23645"/><rect x="859" y="162" width="3" height="3" fill="#089981"/><rect x="863" y="162" width="3" height="14" fill="#f23645"/><rect x="867" y="169" width="3" height="7" fill="#089981"/><rect x="871" y="169" width="3" height="8" fill="#f23645"/><rect x="875" y="153" width="3" height="24" fill="#089981"/><rect x="879" y="149" width="3" height="5" fill="#089981"/><rect x="882" y="149" width="3" height="13" fill="#f23645"/><rect x="886" y="161" width="3" height="2" fill="#f23645"/><rect x="890" y="150" width="3" height="13" fill="#089981"/><rect x="894" y="147" width="3" height="28" fill="#f23645"/><rect x="898" y="170" width="3" height="5" fill="#089981"/><rect x="902" y="170" width="3" height="11" fill="#f23645"/><rect x="906" y="176" width="3" height="5" fill="#089981"/><rect x="909" y="167" width="3" height="10" fill="#089981"/><rect x="913" y="167" width="3" height="3" fill="#f23645"/><rect x="917" y="156" width="3" height="14" fill="#089981"/><rect x="921" y="149" width="3" height="8" fill="#089981"/><rect x="925" y="148" width="3" height="2" fill="#089981"/><rect x="929" y="148" width="3" height="10" fill="#f23645"/><rect x="932" y="136" width="3" height="22" fill="#089981"/><rect x="936" y="135" width="3" height="1" fill="#089981"/><rect x="940" y="133" width="3" height="2" fill="#089981"/><rect x="944" y="133" width="3" height="25" fill="#f23645"/><rect x="948" y="157" width="3" height="14" fill="#f23645"/><rect x="952" y="168" width="3" height="2" fill="#f23645"/><rect x="956" y="168" width="3" height="1" fill="#f23645"/><rect x="959" y="169" width="3" height="29" fill="#f23645"/><rect x="963" y="197" width="3" height="10" fill="#f23645"/><rect x="967" y="195" width="3" height="12" fill="#089981"/><rect x="971" y="192" width="3" height="5" fill="#089981"/><rect x="975" y="191" width="3" height="1" fill="#089981"/><rect x="979" y="191" width="3" height="1" fill="#089981"/><rect x="983" y="187" width="3" height="7" fill="#089981"/><rect x="986" y="187" width="3" height="13" fill="#f23645"/><rect x="990" y="199" width="3" height="10" fill="#f23645"/><rect x="994" y="209" width="3" height="4" fill="#f23645"/><rect x="998" y="211" width="3" height="1" fill="#089981"/><rect x="1002" y="194" width="3" height="18" fill="#089981"/><rect x="1006" y="193" width="3" height="2" fill="#089981"/><rect x="1009" y="186" width="3" height="8" fill="#089981"/><rect x="1013" y="182" width="3" height="5" fill="#089981"/><rect x="1017" y="180" width="3" height="3" fill="#089981"/><rect x="1021" y="180" width="3" height="2" fill="#f23645"/><rect x="1025" y="174" width="3" height="7" fill="#089981"/><rect x="1029" y="171" width="3" height="23" fill="#f23645"/><rect x="1033" y="186" width="3" height="8" fill="#089981"/><rect x="1036" y="164" width="3" height="23" fill="#089981"/><rect x="1040" y="162" width="3" height="2" fill="#089981"/><rect x="1044" y="162" width="3" height="13" fill="#f23645"/><rect x="1048" y="168" width="3" height="7" fill="#089981"/><rect x="1052" y="162" width="3" height="7" fill="#089981"/><rect x="1056" y="161" width="3" height="1" fill="#089981"/><rect x="1060" y="161" width="3" height="10" fill="#f23645"/><rect x="1063" y="166" width="3" height="5" fill="#089981"/><rect x="1067" y="167" width="3" height="12" fill="#f23645"/><rect x="1071" y="174" width="3" height="5" fill="#089981"/><rect x="1075" y="163" width="3" height="11" fill="#089981"/><rect x="1079" y="142" width="3" height="22" fill="#089981"/><rect x="1083" y="142" width="3" height="7" fill="#f23645"/><rect x="1087" y="143" width="3" height="6" fill="#089981"/><rect x="1090" y="127" width="3" height="17" fill="#089981"/><rect x="1094" y="124" width="3" height="4" fill="#089981"/><rect x="1098" y="123" width="3" height="1" fill="#089981"/><rect x="1102" y="123" width="3" height="12" fill="#f23645"/><rect x="1106" y="129" width="3" height="7" fill="#089981"/><rect x="1110" y="129" width="3" height="6" fill="#f23645"/><rect x="1113" y="125" width="3" height="11" fill="#089981"/><rect x="1117" y="121" width="3" height="5" fill="#089981"/><rect x="1121" y="120" width="3" height="6" fill="#f23645"/><rect x="1125" y="120" width="3" height="7" fill="#089981"/><rect x="1129" y="108" width="3" height="13" fill="#089981"/><rect x="1133" y="108" width="3" height="3" fill="#f23645"/><rect x="1137" y="107" width="3" height="4" fill="#089981"/><rect x="1140" y="107" width="3" height="10" fill="#f23645"/><rect x="1144" y="117" width="3" height="5" fill="#f23645"/><rect x="1148" y="121" width="3" height="19" fill="#f23645"/><rect x="1152" y="135" width="3" height="5" fill="#089981"/><rect x="1156" y="135" width="3" height="17" fill="#f23645"/><rect x="1160" y="151" width="3" height="4" fill="#f23645"/><rect x="1164" y="141" width="3" height="12" fill="#089981"/><rect x="1167" y="135" width="3" height="7" fill="#089981"/><rect x="1171" y="112" width="3" height="23" fill="#089981"/><rect x="1175" y="112" width="3" height="3" fill="#f23645"/><rect x="1179" y="114" width="3" height="4" fill="#f23645"/><rect x="1183" y="116" width="3" height="13" fill="#f23645"/><rect x="1187" y="106" width="3" height="22" fill="#089981"/><rect x="1191" y="100" width="3" height="7" fill="#089981"/><rect x="1194" y="81" width="3" height="20" fill="#089981"/><rect x="1198" y="81" width="3" height="1" fill="#f23645"/><rect x="1202" y="81" width="3" height="1" fill="#f23645"/><rect x="1206" y="77" width="3" height="5" fill="#089981"/><rect x="1210" y="77" width="3" height="7" fill="#f23645"/><rect x="1214" y="83" width="3" height="6" fill="#f23645"/><rect x="1217" y="88" width="3" height="16" fill="#f23645"/><rect x="1221" y="103" width="3" height="1" fill="#f23645"/><rect x="1225" y="85" width="3" height="19" fill="#089981"/><rect x="1229" y="85" width="3" height="3" fill="#f23645"/><rect x="1233" y="76" width="3" height="12" fill="#089981"/></g>
<line x1="790" y1="54" x2="1578" y2="54" stroke="#2962ff" stroke-width="2"/>
<line x1="597.9" y1="276.9" x2="1515.7" y2="135.7" stroke="#2962ff" stroke-width="2" stroke-linecap="round"/>
<polyline clip-path="url(#cp2)" points="12.73,602.40 16.58,607.60 20.43,609.90 24.28,615.75 28.14,583.90 31.99,580.50 35.84,593.70 39.69,608.70 43.54,595.78 47.39,603.88 51.25,622.18 55.10,595.72 58.95,582.53 62.80,567.82 66.65,574.21 70.50,548.78 74.36,550.83 78.21,569.38 82.06,548.83 85.91,575.19 89.76,587.86 93.61,581.43 97.47,591.64 101.32,567.86 105.17,566.25 109.02,561.65 112.87,592.40 116.72,572.86 120.57,547.31 124.43,528.11 128.28,547.80 132.13,545.35 135.98,551.76 139.83,557.70 143.68,546.21 147.54,566.56 151.39,568.96 155.24,568.96 159.09,558.47 162.94,533.46 166.79,503.96 170.65,518.33 174.50,500.79 178.35,496.77 182.20,498.33 186.05,491.94 189.90,512.57 193.76,485.54 197.61,497.92 201.46,487.47 205.31,495.01 209.16,504.09 213.01,483.07 216.87,525.99 220.72,528.26 224.57,527.34 228.42,540.68 232.27,529.97 236.12,519.14 239.97,515.79 243.83,484.46 247.68,463.86 251.53,479.19 255.38,467.60 259.23,461.23 263.08,456.47 266.94,470.75 270.79,460.98 274.64,488.80 278.49,470.40 282.34,500.93 286.19,498.13 290.05,497.46 293.90,487.83 297.75,540.41 301.60,536.94 305.45,542.10 309.30,534.37 313.16,542.01 317.01,543.07 320.86,569.66 324.71,558.62 328.56,555.99 332.41,560.53 336.26,531.85 340.12,541.09 343.97,536.79 347.82,509.70 351.67,516.91 355.52,514.75 359.37,504.25 363.23,481.95 367.08,487.89 370.93,456.68 374.78,453.30 378.63,451.41 382.48,496.14 386.34,516.23 390.19,511.14 394.04,486.73 397.89,482.36 401.74,488.58 405.59,513.08 409.45,533.71 413.30,526.76 417.15,556.99 421.00,545.18 424.85,520.22 428.70,563.64 432.56,552.56 436.41,561.19 440.26,552.21 444.11,566.01 447.96,554.26 451.81,556.43 455.66,554.43 459.52,550.54 463.37,529.59 467.22,555.69 471.07,554.75 474.92,568.82 478.77,571.19 482.63,566.07 486.48,561.15 490.33,552.93 494.18,550.91 498.03,527.48 501.88,531.41 505.74,512.89 509.59,527.66 513.44,526.20 517.29,524.82 521.14,510.24 524.99,533.13 528.85,537.07 532.70,521.85 536.55,550.29 540.40,563.71 544.25,576.79 548.10,579.44 551.95,575.09 555.81,584.00 559.66,606.61 563.51,602.93 567.36,605.08 571.21,584.17 575.06,563.55 578.92,577.26 582.77,573.64 586.62,604.56 590.47,608.75 594.32,616.01 598.17,583.16 602.03,585.95 605.88,569.05 609.73,572.72 613.58,580.23 617.43,554.91 621.28,536.85 625.14,526.12 628.99,527.14 632.84,522.62 636.69,543.90 640.54,521.49 644.39,519.98 648.25,519.19 652.10,548.00 655.95,538.74 659.80,556.54 663.65,565.52 667.50,578.70 671.35,570.03 675.21,552.13 679.06,576.98 682.91,563.23 686.76,561.86 690.61,552.31 694.46,521.13 698.32,503.86 702.17,503.86 706.02,505.03 709.87,527.61 713.72,509.84 717.57,501.85 721.43,518.88 725.28,491.00 729.13,502.42 732.98,497.97 736.83,511.78 740.68,526.83 744.54,519.71 748.39,511.53 752.24,506.41 756.09,503.19 759.94,521.99 763.79,554.35 767.65,558.04 771.50,539.48 775.35,529.46 779.20,542.34 783.05,532.68 786.90,527.67 790.75,527.15 794.61,484.51 798.46,483.46 802.31,467.19 806.16,505.38 810.01,505.77 813.86,505.16 817.72,506.26 821.57,490.44 825.42,516.63 829.27,546.78 833.12,552.36 836.97,550.21 840.83,546.09 844.68,581.83 848.53,560.84 852.38,576.50 856.23,587.64 860.08,584.00 863.94,594.26 867.79,586.45 871.64,592.77 875.49,565.43 879.34,561.60 883.19,573.16 887.04,574.23 890.90,559.20 894.75,582.51 898.60,576.95 902.45,586.55 906.30,580.14 910.15,568.54 914.01,571.69 917.86,554.25 921.71,545.97 925.56,544.76 929.41,557.37 933.26,531.35 937.12,529.89 940.97,528.15 944.82,561.21 948.67,576.04 952.52,574.15 956.37,573.64 960.23,603.04 964.08,610.62 967.93,592.23 971.78,587.13 975.63,585.79 979.48,585.79 983.34,579.53 987.19,595.53 991.04,605.61 994.89,609.16 998.74,604.59 1002.59,572.52 1006.44,570.46 1010.30,559.20 1014.15,551.40 1018.00,547.90 1021.85,551.07 1025.70,536.41 1029.55,571.70 1033.41,558.12 1037.26,525.05 1041.11,522.45 1044.96,545.24 1048.81,534.51 1052.66,526.50 1056.52,524.87 1060.37,543.72 1064.22,535.93 1068.07,558.50 1071.92,548.89 1075.77,532.83 1079.63,506.31 1083.48,518.81 1087.33,511.84 1091.18,494.48 1095.03,492.00 1098.88,490.28 1102.73,515.30 1106.59,507.81 1110.44,519.12 1114.29,506.94 1118.14,501.56 1121.99,512.03 1125.84,504.86 1129.70,490.58 1133.55,496.98 1137.40,491.92 1141.25,514.58 1145.10,524.74 1148.95,557.58 1152.81,549.85 1156.66,575.55 1160.51,579.76 1164.36,555.79 1168.21,545.71 1172.06,515.76 1175.92,520.53 1179.77,525.96 1183.62,544.64 1187.47,515.40 1191.32,509.23 1195.17,490.62 1199.03,491.46 1202.88,491.76 1206.73,487.25 1210.58,500.78 1214.43,510.82 1218.28,539.77 1222.13,539.77 1225.99,513.62 1229.84,518.76 1233.69,504.19" fill="none" stroke="#9d55c0" stroke-width="1.2" stroke-linejoin="round"/>
<rect x="1149.2" y="472.9" width="112" height="75.8" fill="none" stroke="#8e16a2" stroke-width="2"/>
<text x="1177.9" y="256.8" font-family="Liberation Sans, sans-serif" font-size="35.5" fill="#2962ff" stroke="#2962ff" stroke-width="0.7" textLength="155.5" lengthAdjust="spacingAndGlyphs">Ascending</text>
<text x="1345.3" y="256.8" font-family="Liberation Sans, sans-serif" font-size="35.5" fill="#2962ff" stroke="#2962ff" stroke-width="0.7" textLength="123.6" lengthAdjust="spacingAndGlyphs">Triangle</text>
<text x="23.4" y="37.9" font-family="Liberation Sans, sans-serif" font-size="15.3" fill="#131722" stroke="#131722" stroke-width="0.3" textLength="35.0" lengthAdjust="spacingAndGlyphs">Silver</text>
<text x="65.2" y="37.9" font-family="Liberation Sans, sans-serif" font-size="15.3" fill="#131722" stroke="#131722" stroke-width="0.3" textLength="16.0" lengthAdjust="spacingAndGlyphs">US</text>
<text x="86.7" y="37.9" font-family="Liberation Sans, sans-serif" font-size="15.3" fill="#131722" stroke="#131722" stroke-width="0.3" textLength="44.9" lengthAdjust="spacingAndGlyphs">Dollars</text>
<text x="137.6" y="37.9" font-family="Liberation Sans, sans-serif" font-size="15.3" fill="#131722" stroke="#131722" stroke-width="0.3" textLength="19.3" lengthAdjust="spacingAndGlyphs">per</text>
<text x="163.5" y="37.9" font-family="Liberation Sans, sans-serif" font-size="15.3" fill="#131722" stroke="#131722" stroke-width="0.3" textLength="41.8" lengthAdjust="spacingAndGlyphs">Ounce</text>
<text x="211.3" y="37.9" font-family="Liberation Sans, sans-serif" font-size="15.3" fill="#131722" stroke="#131722" stroke-width="0.3" textLength="26.5" lengthAdjust="spacingAndGlyphs">Spot</text>
<text x="244.6" y="37.9" font-family="Liberation Sans, sans-serif" font-size="15.3" fill="#131722" stroke="#131722" stroke-width="0.3" textLength="42.4" lengthAdjust="spacingAndGlyphs">Prices,</text>
<text x="295.6" y="37.9" font-family="Liberation Sans, sans-serif" font-size="15.3" fill="#131722" stroke="#131722" stroke-width="0.3" textLength="13.9" lengthAdjust="spacingAndGlyphs">1D</text>
<text x="320.3" y="37.9" font-family="Liberation Sans, sans-serif" font-size="15.3" fill="#131722" stroke="#131722" stroke-width="0.3" textLength="9.2" lengthAdjust="spacingAndGlyphs">O</text>
<text x="376.7" y="37.9" font-family="Liberation Sans, sans-serif" font-size="15.3" fill="#131722" stroke="#131722" stroke-width="0.3" textLength="8.2" lengthAdjust="spacingAndGlyphs">H</text>
<text x="432.8" y="37.9" font-family="Liberation Sans, sans-serif" font-size="15.3" fill="#131722" stroke="#131722" stroke-width="0.3" textLength="6.1" lengthAdjust="spacingAndGlyphs">L</text>
<text x="485.5" y="37.9" font-family="Liberation Sans, sans-serif" font-size="15.3" fill="#131722" stroke="#131722" stroke-width="0.3" textLength="8.2" lengthAdjust="spacingAndGlyphs">C</text>
<text x="330.5" y="37.9" font-family="Liberation Sans, sans-serif" font-size="15.3" fill="#089981" stroke="#089981" stroke-width="0.3" textLength="36.0" lengthAdjust="spacingAndGlyphs">33.64</text>
<text x="386" y="37.9" font-family="Liberation Sans, sans-serif" font-size="15.3" fill="#089981" stroke="#089981" stroke-width="0.3" textLength="36.5" lengthAdjust="spacingAndGlyphs">34.09</text>
<text x="439.7" y="37.9" font-family="Liberation Sans, sans-serif" font-size="15.3" fill="#089981" stroke="#089981" stroke-width="0.3" textLength="36.2" lengthAdjust="spacingAndGlyphs">33.60</text>
<text x="494.4" y="37.9" font-family="Liberation Sans, sans-serif" font-size="15.3" fill="#089981" stroke="#089981" stroke-width="0.3" textLength="36.3" lengthAdjust="spacingAndGlyphs">34.05</text>
<text x="541" y="37.9" font-family="Liberation Sans, sans-serif" font-size="15.3" fill="#089981" stroke="#089981" stroke-width="0.3" textLength="34.9" lengthAdjust="spacingAndGlyphs">+0.41</text>
<text x="582.6" y="37.9" font-family="Liberation Sans, sans-serif" font-size="15.3" fill="#089981" stroke="#089981" stroke-width="0.3" textLength="55.9" lengthAdjust="spacingAndGlyphs">(+1.23%)</text>
<text x="23.4" y="58.3" font-family="Liberation Sans, sans-serif" font-size="15.3" fill="#131722" stroke="#131722" stroke-width="0.3" textLength="25.5" lengthAdjust="spacingAndGlyphs">EMA</text>
<text x="55.9" y="58.3" font-family="Liberation Sans, sans-serif" font-size="15.3" fill="#131722" stroke="#131722" stroke-width="0.3" textLength="24.9" lengthAdjust="spacingAndGlyphs">(20,</text>
<text x="86.3" y="58.3" font-family="Liberation Sans, sans-serif" font-size="15.3" fill="#131722" stroke="#131722" stroke-width="0.3" textLength="37.9" lengthAdjust="spacingAndGlyphs">close,</text>
<text x="130.6" y="58.3" font-family="Liberation Sans, sans-serif" font-size="15.3" fill="#131722" stroke="#131722" stroke-width="0.3" textLength="11.9" lengthAdjust="spacingAndGlyphs">0)</text>
<text x="153.5" y="58.3" font-family="Liberation Sans, sans-serif" font-size="15.3" fill="#c2185b" stroke="#c2185b" stroke-width="0.3" textLength="35.9" lengthAdjust="spacingAndGlyphs">33.17</text>
<text x="23.7" y="455.8" font-family="Liberation Sans, sans-serif" font-size="15.3" fill="#131722" stroke="#131722" stroke-width="0.3" textLength="18.3" lengthAdjust="spacingAndGlyphs">RSI</text>
<text x="48.9" y="455.8" font-family="Liberation Sans, sans-serif" font-size="15.3" fill="#131722" stroke="#131722" stroke-width="0.3" textLength="24.8" lengthAdjust="spacingAndGlyphs">(14)</text>
<text x="83.7" y="455.8" font-family="Liberation Sans, sans-serif" font-size="15.3" fill="#9d55c0" stroke="#9d55c0" stroke-width="0.3" textLength="36.2" lengthAdjust="spacingAndGlyphs">63.65</text>
<text x="1588" y="29.9" font-family="Liberation Sans, sans-serif" font-size="15.3" fill="#131722" stroke="#131722" stroke-width="0.3" textLength="36.7" lengthAdjust="spacingAndGlyphs">36.00</text>
<text x="1588" y="82.9" font-family="Liberation Sans, sans-serif" font-size="15.3" fill="#131722" stroke="#131722" stroke-width="0.3" textLength="36.7" lengthAdjust="spacingAndGlyphs">34.00</text>
<text x="1588" y="135.3" font-family="Liberation Sans, sans-serif" font-size="15.3" fill="#131722" stroke="#131722" stroke-width="0.3" textLength="36.7" lengthAdjust="spacingAndGlyphs">32.00</text>
<text x="1588" y="187.7" font-family="Liberation Sans, sans-serif" font-size="15.3" fill="#131722" stroke="#131722" stroke-width="0.3" textLength="36.7" lengthAdjust="spacingAndGlyphs">30.00</text>
<text x="1588" y="240.6" font-family="Liberation Sans, sans-serif" font-size="15.3" fill="#131722" stroke="#131722" stroke-width="0.3" textLength="36.7" lengthAdjust="spacingAndGlyphs">28.00</text>
<text x="1588" y="293.8" font-family="Liberation Sans, sans-serif" font-size="15.3" fill="#131722" stroke="#131722" stroke-width="0.3" textLength="36.7" lengthAdjust="spacingAndGlyphs">26.00</text>
<text x="1588" y="346.0" font-family="Liberation Sans, sans-serif" font-size="15.3" fill="#131722" stroke="#131722" stroke-width="0.3" textLength="36.7" lengthAdjust="spacingAndGlyphs">24.00</text>
<text x="1588" y="398.4" font-family="Liberation Sans, sans-serif" font-size="15.3" fill="#131722" stroke="#131722" stroke-width="0.3" textLength="36.7" lengthAdjust="spacingAndGlyphs">22.00</text>
<text x="1588" y="452.9" font-family="Liberation Sans, sans-serif" font-size="15.3" fill="#131722" stroke="#131722" stroke-width="0.3" textLength="36.7" lengthAdjust="spacingAndGlyphs">80.00</text>
<text x="1588" y="522.1" font-family="Liberation Sans, sans-serif" font-size="15.3" fill="#131722" stroke="#131722" stroke-width="0.3" textLength="36.7" lengthAdjust="spacingAndGlyphs">60.00</text>
<text x="1588" y="591.1" font-family="Liberation Sans, sans-serif" font-size="15.3" fill="#131722" stroke="#131722" stroke-width="0.3" textLength="36.7" lengthAdjust="spacingAndGlyphs">40.00</text>
<path d="M1578 44H1630a2 2 0 0 1 2 2V62.8a2 2 0 0 1 -2 2H1578Z" fill="#2962ff"/><text x="1588" y="59.9" font-family="Liberation Sans, sans-serif" font-size="15.3" fill="#ffffff" stroke="#ffffff" stroke-width="0.3" textLength="36.5" lengthAdjust="spacingAndGlyphs">34.91</text>
<path d="M1578 66.2H1630a2 2 0 0 1 2 2V85a2 2 0 0 1 -2 2H1578Z" fill="#089981"/><text x="1588" y="82.1" font-family="Liberation Sans, sans-serif" font-size="15.3" fill="#ffffff" stroke="#ffffff" stroke-width="0.3" textLength="36.5" lengthAdjust="spacingAndGlyphs">34.05</text>
<path d="M1578 89.2H1630a2 2 0 0 1 2 2V108a2 2 0 0 1 -2 2H1578Z" fill="#c2185b"/><text x="1588" y="105.1" font-family="Liberation Sans, sans-serif" font-size="15.3" fill="#ffffff" stroke="#ffffff" stroke-width="0.3" textLength="36.5" lengthAdjust="spacingAndGlyphs">33.17</text>
<path d="M1578 494.9H1630a2 2 0 0 1 2 2V513.7a2 2 0 0 1 -2 2H1578Z" fill="#9d55c0"/><text x="1588" y="510.8" font-family="Liberation Sans, sans-serif" font-size="15.3" fill="#ffffff" stroke="#ffffff" stroke-width="0.3" textLength="36.5" lengthAdjust="spacingAndGlyphs">63.65</text>
<text x="70.3" y="661.5" font-family="Liberation Sans, sans-serif" font-size="15.3" fill="#131722" stroke="#131722" stroke-width="0.3" textLength="23.8" lengthAdjust="spacingAndGlyphs">Feb</text>
<text x="229.0" y="661.5" font-family="Liberation Sans, sans-serif" font-size="15.3" fill="#131722" stroke="#131722" stroke-width="0.3" textLength="22.8" lengthAdjust="spacingAndGlyphs">Apr</text>
<text x="401.8" y="661.5" font-family="Liberation Sans, sans-serif" font-size="15.3" fill="#131722" stroke="#131722" stroke-width="0.3" textLength="22.7" lengthAdjust="spacingAndGlyphs">Jun</text>
<text x="567.2" y="661.5" font-family="Liberation Sans, sans-serif" font-size="15.3" fill="#131722" stroke="#131722" stroke-width="0.3" textLength="24.3" lengthAdjust="spacingAndGlyphs">Aug</text>
<text x="733.1" y="661.5" font-family="Liberation Sans, sans-serif" font-size="15.3" fill="#131722" stroke="#131722" stroke-width="0.3" textLength="22.7" lengthAdjust="spacingAndGlyphs">Oct</text>
<text x="841.1" y="661.5" font-family="Liberation Sans, sans-serif" font-size="15.3" fill="#131722" stroke="#131722" stroke-width="0.3" textLength="7.2" lengthAdjust="spacingAndGlyphs">6</text>
<text x="981.9" y="661.5" font-family="Liberation Sans, sans-serif" font-size="15.3" fill="#131722" stroke="#131722" stroke-width="0.3" textLength="34.7" lengthAdjust="spacingAndGlyphs" font-weight="bold">2025</text>
<text x="1152.2" y="661.5" font-family="Liberation Sans, sans-serif" font-size="15.3" fill="#131722" stroke="#131722" stroke-width="0.3" textLength="24.5" lengthAdjust="spacingAndGlyphs">Mar</text>
<text x="1261.5" y="661.5" font-family="Liberation Sans, sans-serif" font-size="15.3" fill="#131722" stroke="#131722" stroke-width="0.3" textLength="7.5" lengthAdjust="spacingAndGlyphs">4</text>
<text x="1355.5" y="661.5" font-family="Liberation Sans, sans-serif" font-size="15.3" fill="#131722" stroke="#131722" stroke-width="0.3" textLength="26.1" lengthAdjust="spacingAndGlyphs">May</text>
<text x="1476.3" y="661.5" font-family="Liberation Sans, sans-serif" font-size="15.3" fill="#131722" stroke="#131722" stroke-width="0.3" textLength="23.3" lengthAdjust="spacingAndGlyphs">Jun</text>
<rect x="13" y="13" width="1630" height="661" fill="none" stroke="#ebedf3" stroke-width="2"/>
<rect x="13" y="362" width="1" height="9" fill="#f23645" fill-opacity="0.45"/>
<g fill="#131722"><path d="M13 690H22.7V702H17.4V694.8H13Z"/><circle cx="26.6" cy="692.2" r="2.25"/><path d="M30.2 690H37.2L32.9 702H27.4Z"/></g>
<text x="42.2" y="701.9" font-family="Liberation Sans, sans-serif" font-size="16" fill="#131722" stroke="#131722" stroke-width="0.05" textLength="87.3" lengthAdjust="spacingAndGlyphs">TradingView</text>
</svg>
</body></html>
